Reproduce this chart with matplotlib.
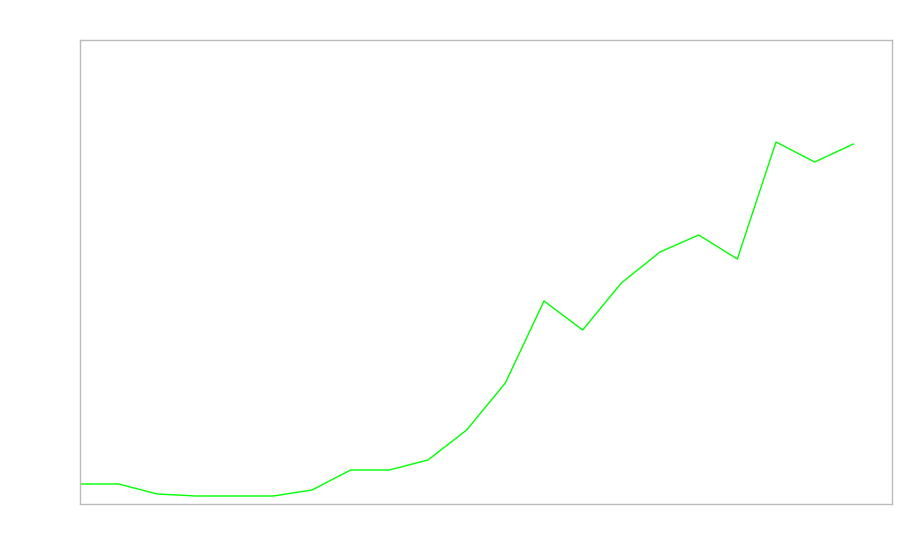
import numpy as np
import matplotlib.pyplot as plt

# values (no labels shown)
x = np.arange(21)
y = [20, 20, 10, 8, 8, 8, 14, 34, 34, 44, 74, 121, 203, 174, 221, 252, 269, 245, 362, 342, 360]

fig = plt.figure(figsize=(9, 5.6), dpi=100)
ax = fig.add_axes([80 / 900, 56 / 560, 812 / 900, 464 / 560])
ax.plot(x, y, color='#00ff00', lw=1)
ax.set_xlim(0, 21)
ax.set_ylim(0, 464)
ax.set_xticks([])
ax.set_yticks([])
for s in ax.spines.values():
    s.set_color('#bbbbbb')
    s.set_linewidth(1)

fig.savefig('out.png', dpi=100)
